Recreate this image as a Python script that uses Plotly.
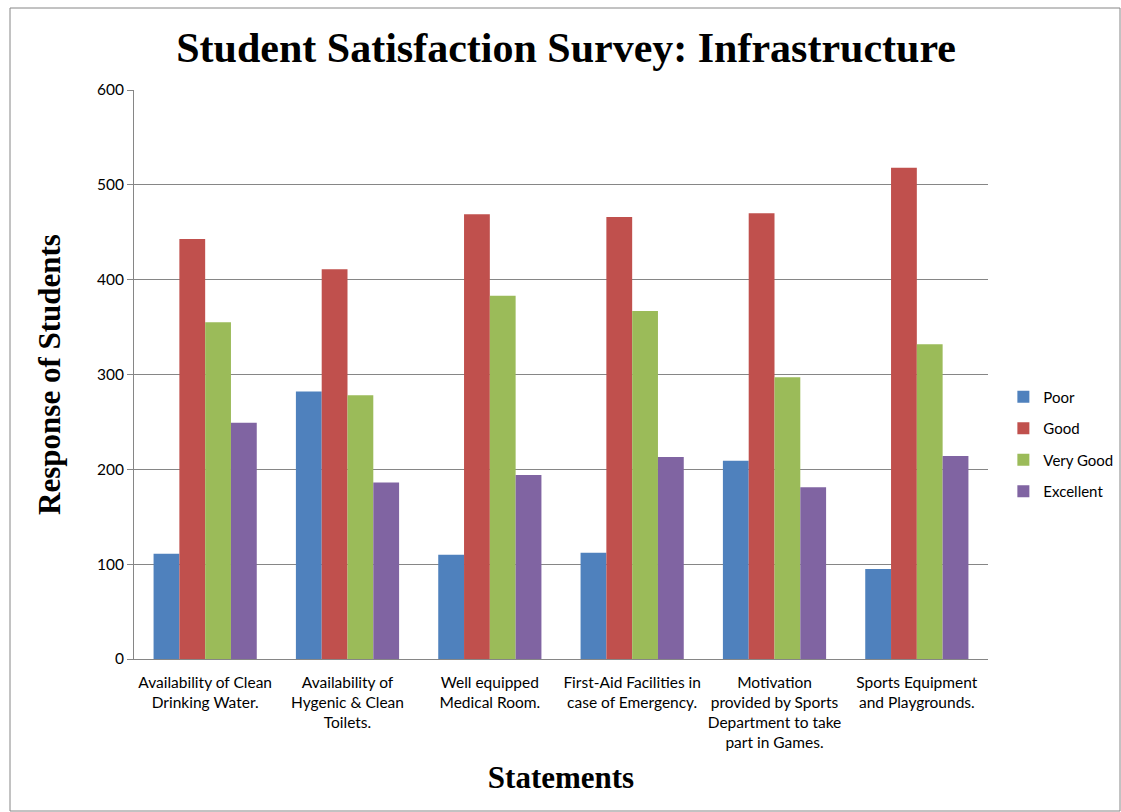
import plotly.graph_objects as go

# Survey statements (x categories) and response counts per rating
statements = [
    "Availability of Clean<br>Drinking Water.",
    "Availability of<br>Hygenic & Clean<br>Toilets.",
    "Well equipped<br>Medical Room.",
    "First-Aid Facilities in<br>case of Emergency.",
    "Motivation<br>provided by Sports<br>Department to take<br>part in Games.",
    "Sports Equipment<br>and Playgrounds.",
]
poor = [111, 282, 110, 112, 209, 95]
good = [443, 411, 469, 466, 470, 518]
very_good = [355, 278, 383, 367, 297, 332]
excellent = [249, 186, 194, 213, 181, 214]

series_names = ["Poor", "Good", "Very Good", "Excellent"]
series_values = [poor, good, very_good, excellent]
series_colors = ["#4F81BD", "#C0504D", "#9BBB59", "#8064A2"]

W, H = 1121, 812
L, R, T, B = 134, 133, 90, 153

fig = go.Figure()
for name, vals, col in zip(series_names, series_values, series_colors):
    fig.add_trace(go.Bar(
        x=statements, y=vals, name=name, legendgroup=name,
        marker=dict(color=col, line=dict(width=0)),
    ))

label_font = dict(family="Lato, Open Sans, sans-serif", size=15.5, color="#000000")
title_font = dict(family="Liberation Serif, Times New Roman, serif", size=31, color="#000000")

fig.update_layout(
    width=W, height=H,
    margin=dict(l=L, r=R, t=T, b=B, autoexpand=False),
    paper_bgcolor="white", plot_bgcolor="white",
    barmode="group", bargap=0.275, bargroupgap=0,
    title=dict(
        text="<b>Student Satisfaction Survey: Infrastructure</b>",
        font=dict(family="Liberation Serif, Times New Roman, serif", size=42, color="#000000"),
        x=0.505, xanchor="center", y=0.942, yanchor="middle",
    ),
    legend=dict(
        x=1.018, y=0.378, xanchor="left", yanchor="middle",
        font=dict(family="Lato, Open Sans, sans-serif", size=15, color="#000000"),
        tracegroupgap=9, itemwidth=30,
        bgcolor="rgba(0,0,0,0)",
    ),
    showlegend=True,
    xaxis=dict(
        tickfont=label_font, showgrid=False,
        showline=True, linecolor="#868686", linewidth=1,
        ticks="", ticklabelstandoff=9,
        title=dict(text="<b>Statements</b>", font=title_font, standoff=16),
    ),
    yaxis=dict(
        range=[0, 600], dtick=100, tickfont=label_font,
        showgrid=True, gridcolor="#868686", gridwidth=1,
        showline=True, linecolor="#868686", linewidth=1,
        ticks="outside", ticklen=6, tickcolor="#868686",
        zeroline=False,
        title=dict(text="<b>Response of Students</b>", font=title_font, standoff=27),
    ),
)

# Outer chart frame
pw, ph = W - L - R, H - T - B
fig.add_shape(
    type="rect", xref="paper", yref="paper",
    x0=(10 - L) / pw, x1=(W - 1 - L) / pw,
    y0=-(H - 1 - (H - B)) / ph, y1=1 + (T - 8) / ph,
    line=dict(color="#868686", width=1), fillcolor="rgba(0,0,0,0)", layer="below",
)

fig.write_html("out.html")
